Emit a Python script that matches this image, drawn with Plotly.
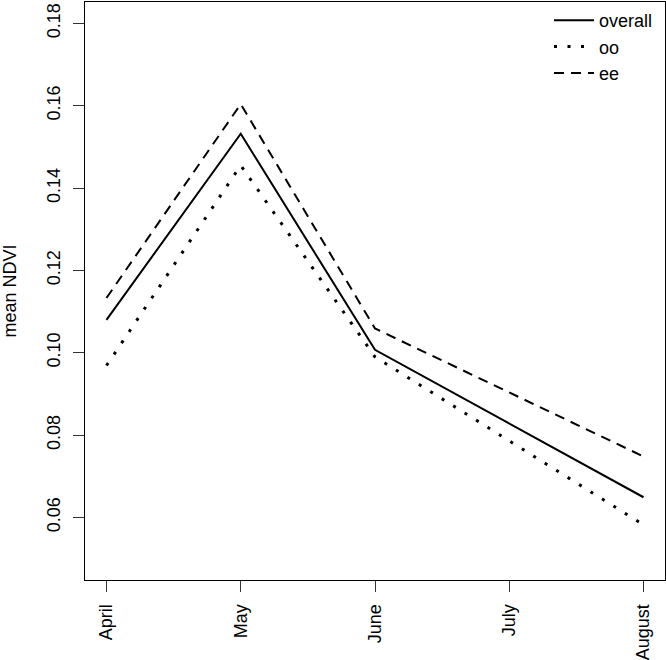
import plotly.graph_objects as go

months = ["April", "May", "June", "July", "August"]
overall = [0.1080, 0.1532, 0.1007, 0.0828, 0.0649]
oo = [0.0969, 0.1455, 0.0990, 0.0786, 0.0582]
ee = [0.1133, 0.1604, 0.1059, 0.0904, 0.0748]
y_ticks = [0.06, 0.08, 0.10, 0.12, 0.14, 0.16, 0.18]
y_tick_text = ["0.06", "0.08", "0.10", "0.12", "0.14", "0.16", "0.18"]

FONT = "Liberation Sans, Arial, Helvetica, sans-serif"
x_pos = list(range(1, len(months) + 1))

fig = go.Figure()
fig.add_trace(go.Scatter(x=x_pos, y=overall, mode="lines", name="overall",
                         line=dict(color="black", width=2)))
fig.add_trace(go.Scatter(x=x_pos, y=oo, mode="lines", name="oo",
                         line=dict(color="black", width=3, dash="3px,10.5px")))
fig.add_trace(go.Scatter(x=x_pos, y=ee, mode="lines", name="ee",
                         line=dict(color="black", width=2, dash="10px,7px")))

fig.update_layout(
    width=666, height=660,
    margin=dict(l=85, r=1, t=2, b=80, autoexpand=False),
    paper_bgcolor="white", plot_bgcolor="white",
    font=dict(family=FONT, size=18, color="black"),
    showlegend=True,
    legend=dict(x=0.800, xanchor="left", y=1.0, yanchor="top",
                bgcolor="rgba(0,0,0,0)", borderwidth=0, itemwidth=40,
                font=dict(size=18), tracegroupgap=0),
    xaxis=dict(range=[0.84, 5.16], tickmode="array", tickvals=x_pos, ticktext=months,
               tickangle=-90, ticks="outside", ticklen=11, tickcolor="#333",
               showline=True, mirror=True, linecolor="black", linewidth=1,
               showgrid=False, zeroline=False, tickfont=dict(size=18),
               ticklabelstandoff=5, automargin=False),
    yaxis=dict(range=[0.0448, 0.1852], tickmode="array", tickvals=y_ticks, ticktext=y_tick_text,
               tickangle=-90, ticks="outside", ticklen=11, tickcolor="#333",
               showline=True, mirror=True, linecolor="black", linewidth=1,
               showgrid=False, zeroline=False, tickfont=dict(size=18),
               ticklabelstandoff=6, automargin=False,
               title=dict(text="mean NDVI", font=dict(size=18), standoff=27)),
)

fig.write_html("out.html", config={"displayModeBar": False},
               post_script="document.body.style.margin='0';document.body.style.overflow='hidden';")
